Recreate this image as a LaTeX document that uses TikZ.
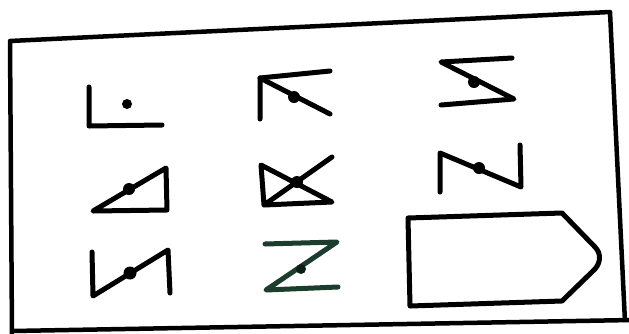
\documentclass[tikz,border=0pt]{standalone}
\begin{document}
\begin{tikzpicture}[x=1pt,y=-1pt,
  stroke/.style={line width=5pt,line cap=round,line join=round,draw=black},
  gstroke/.style={stroke,draw=zgreen},
  blob/.style={fill=black,draw=none},
  gblob/.style={fill=zgreen!50!black,draw=none}]
\definecolor{zgreen}{HTML}{1C3D2E}
\useasboundingbox (0,0) rectangle (629,333);
% outer frame
\draw[stroke,line width=4.5pt,line cap=butt] (12,336) -- (10,41) -- (610,12) -- (625,322);
\draw[stroke,line width=4.5pt,line cap=butt] (12,331) -- (632,320);
% 1: L with dot
\draw[stroke] (89,87) -- (89,126) -- (162,125);
\fill[blob] (127,104) circle (5);
% 2
\draw[stroke] (260,119) -- (260,78) -- (330,71);
\draw[stroke] (260,78) -- (330,114);
\fill[blob] (294,97) circle (6);
% 3
\draw[stroke] (512,58) -- (441,62) -- (514,99) -- (441,105);
\fill[blob] (474,82) circle (6);
% 4 triangle
\draw[stroke] (93,211) -- (166,168) -- (167,210) -- cycle;
\fill[blob] (129,189) circle (6);
% 5 crossed triangle
\draw[stroke] (332,157) -- (264,205) -- (261,165) -- (332,202) -- (264,205);
\fill[blob] (297,182) circle (6);
% 6
\draw[stroke] (440,192) -- (440,153) -- (521,187) -- (520,145);
\fill[blob] (479,168) circle (6);
% 7
\draw[stroke] (92,252) -- (93,296) -- (168,250) -- (170,293);
\fill[blob] (130,273) circle (6.5);
% 8 green Z
\draw[gstroke] (265,244) -- (337,242) -- (266,290) -- (338,287);
\fill[gblob] (301,269) circle (5);
% 9 pentagon
\draw[stroke] (408,218) -- (562,213) -- (595,247) .. controls (601,253) and (601,262) .. (595,269) -- (562,301) -- (410,306) -- cycle;
\end{tikzpicture}
\end{document}
